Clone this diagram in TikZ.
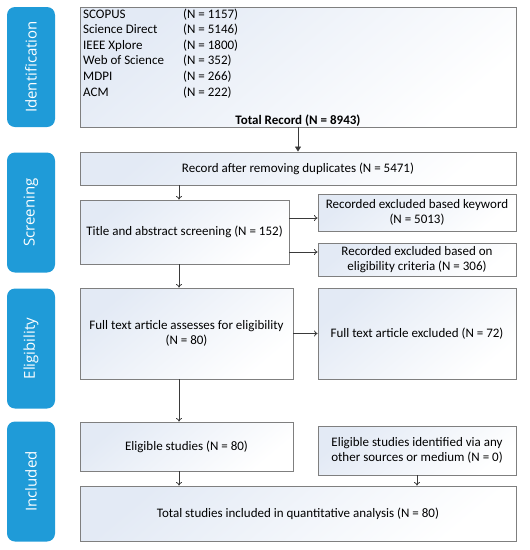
\documentclass[tikz,border=0pt]{standalone}
\usepackage{fontspec}
\setmainfont{Carlito}
\newfontfamily\labelfont{Open Sans}
\usetikzlibrary{arrows.meta,calc}
\definecolor{phaseblue}{HTML}{1F9BD8}
\definecolor{gradblue}{HTML}{E3EAF5}
\definecolor{boxline}{HTML}{7F7F7F}
\definecolor{arrline}{HTML}{3A3A3A}
\tikzset{
  phase/.style={draw=none, fill=phaseblue, rounded corners=8pt, minimum width=48pt, minimum height=120pt, inner sep=0pt},
  phasetext/.style={text=white, rotate=90, font=\labelfont\fontsize{15}{17}\selectfont},
  flowbox/.style={draw=boxline, line width=0.9pt, top color=gradblue, bottom color=white, shading angle=40, inner sep=2pt, align=center, font=\fontsize{13}{15.6}\selectfont},
  arr/.style={draw=arrline, line width=0.8pt, -{To[length=3.5pt,width=6pt]}},
  firstarr/.style={draw=arrline, line width=0.8pt, -{Triangle[length=5pt,width=6pt]}},
}
\begin{document}
\begin{tikzpicture}[x=1pt,y=-1pt]
\useasboundingbox (0,0) rectangle (530,550);
% phase labels
\node[phase] (pI) at (31,67) {};
\node[phasetext] at (pI.center) {Identification};
\node[phase] (pS) at (31,212.5) {};
\node[phasetext] at (pS.center) {Screening};
\node[phase] (pE) at (31,348.5) {};
\node[phasetext] at (pE.center) {Eligibility};
\node[phase] (pN) at (31,481.5) {};
\node[phasetext] at (pN.center) {Included};
% boxes
\node[flowbox, minimum width=436pt, minimum height=120pt] (ident) at (298,67) {};
\node[anchor=north west, inner sep=0pt, font=\fontsize{13}{15.6}\selectfont] (srcs) at (83,7) {%
  \begin{tabular}{@{}p{100pt}@{}l@{}}
  SCOPUS & (N = 1157)\\
  Science Direct & (N = 5146)\\
  IEEE Xplore & (N = 1800)\\
  Web of Science & (N = 352)\\
  MDPI & (N = 266)\\
  ACM & (N = 222)
  \end{tabular}};
\node[inner sep=0pt, font=\bfseries\fontsize{13}{15}\selectfont] (total) at (298,121) {Total Record (N = 8943)};
\node[flowbox, minimum width=436pt, minimum height=33pt] (rec) at (298,168.5) {Record after removing duplicates (N = 5471)};
\node[flowbox, minimum width=209pt, minimum height=64pt] (title) at (184.5,232) {Title and abstract screening (N = 152)};
\node[flowbox, minimum width=198pt, minimum height=37pt] (kw) at (417,212.5) {Recorded excluded based keyword\\(N = 5013)};
\node[flowbox, minimum width=198pt, minimum height=33pt] (elig) at (417,259.5) {Recorded excluded based on\\eligibility criteria (N = 306)};
\node[flowbox, minimum width=213pt, minimum height=91pt] (full) at (186.5,333.5) {Full text article assesses for eligibility\\(N = 80)};
\node[flowbox, minimum width=198pt, minimum height=91pt] (fex) at (417,333.5) {Full text article excluded (N = 72)};
\node[flowbox, minimum width=213pt, minimum height=49pt] (eligs) at (186.5,446.5) {Eligible studies (N = 80)};
\node[flowbox, minimum width=198pt, minimum height=49pt] (other) at (417,450.5) {Eligible studies identified via any\\other sources or medium (N = 0)};
\node[flowbox, minimum width=436pt, minimum height=55pt] (tot) at (298,513.5) {Total studies included in quantitative analysis (N = 80)};
% helper coordinates
\coordinate (ax) at (179,0);
\coordinate (ykw) at (0,218);
\coordinate (yel) at (0,252);
% connectors
\draw[firstarr] (ident.south) -- (rec.north);
\draw[arr] (rec.south -| ax) -- (title.north -| ax);
\draw[arr] (title.east |- ykw) -- (kw.west |- ykw);
\draw[arr] (title.east |- yel) -- (elig.west |- yel);
\draw[arr] (title.south -| ax) -- (full.north -| ax);
\draw[arr] (full.east) -- (fex.west);
\draw[arr] (full.south -| ax) -- (eligs.north -| ax);
\draw[arr] (eligs.south -| ax) -- (tot.north -| ax);
\draw[arr] (other.south) -- (tot.north -| other.south);
\end{tikzpicture}
\end{document}
